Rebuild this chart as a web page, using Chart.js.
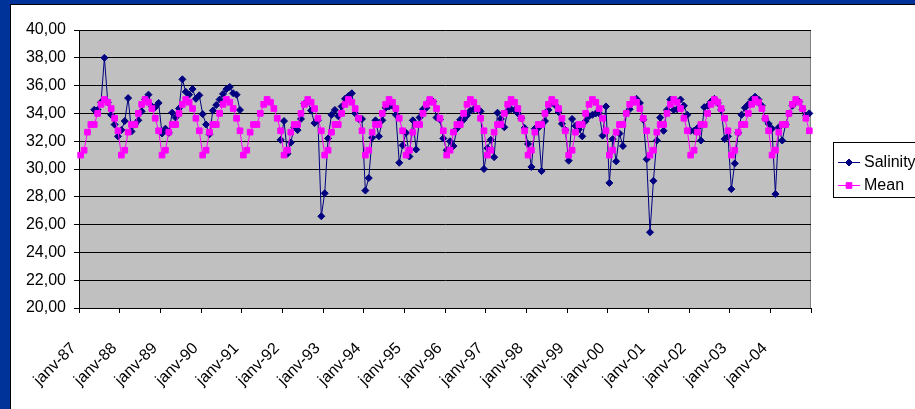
<!DOCTYPE html>
<html>
<head>
<meta charset="utf-8">
<script src="https://cdn.jsdelivr.net/npm/chart.js@4.4.0/dist/chart.umd.min.js"></script>
<style>
  html, body { margin: 0; padding: 0; background: #003399; }
  canvas { display: block; }
</style>
</head>
<body>
<canvas id="salinityChart" width="915" height="409"></canvas>
<script>
// axis categories: one point per month, jan 1987 -> dec 2004
const years = ['87','88','89','90','91','92','93','94','95','96','97','98','99','00','01','02','03','04'];
const months = ['janv','févr','mars','avr','mai','juin','juil','août','sept','oct','nov','déc'];

// measured salinity (null = no measurement)
const salinity = [
  null, null, null, null, 34.26, 34.26, 34.8, 38.0, 34.8, 33.9, 33.2, 32.35,      // 1987
  32.8, 33.45, 35.1, 32.7, 33.2, 33.5, 34.15, 35.0, 35.35, 34.5, 34.45, 34.75,     // 1988
  32.55, 32.9, 32.6, 34.05, 33.7, 34.35, 36.45, 35.55, 35.35, 35.75, 35.05, 35.3,  // 1989
  33.95, 33.2, 32.5, 34.2, 34.6, 35.0, 35.4, 35.75, 35.9, 35.45, 35.35, 34.25,     // 1990
  null, null, null, null, null, null, null, null, null, null, null, 32.1,           // 1991
  33.45, 31.1, 31.9, 33.0, 32.8, 33.6, 34.7, 34.85, 34.2, 33.3, 33.5, 26.6,        // 1992
  28.25, 32.2, 33.9, 34.25, 33.8, 34.5, 35.05, 35.25, 35.45, 34.0, 33.6, 33.6,     // 1993
  28.45, 29.35, 32.25, 33.5, 32.35, 33.5, 34.4, 34.5, 34.55, 33.9, 30.45, 31.7,    // 1994
  32.6, 30.9, 33.5, 31.4, 33.7, 34.3, 34.4, 34.9, 34.85, 33.7, 33.55, 32.2,        // 1995
  31.35, 32.0, 31.65, 32.9, 33.55, 33.55, 33.85, 34.2, 34.3, 34.3, 34.15, 30.0,    // 1996
  31.5, 32.1, 30.85, 34.05, 33.6, 33.0, 34.2, 34.3, 34.25, 34.0, 33.65, 32.95,     // 1997
  31.8, 30.15, 32.9, 32.95, 29.85, 33.45, 34.25, 34.75, 34.6, 34.1, 33.25, 32.8,   // 1998
  30.6, 33.6, 33.1, 32.85, 32.35, 33.45, 33.8, 33.9, 34.0, 34.0, 32.4, 34.5,       // 1999
  29.0, 32.15, 30.55, 32.55, 31.65, 34.0, 34.3, 34.85, 35.05, 34.75, 33.55, 30.7,  // 2000
  25.45, 29.15, 32.05, 33.7, 32.75, 34.25, 35.0, 34.25, 34.3, 35.0, 34.55, 33.9,   // 2001
  32.75, 32.75, 32.95, 32.05, 34.45, 34.55, 34.85, 35.05, 34.75, 34.25, 32.15, 32.35, // 2002
  28.55, 30.4, 32.6, 33.9, 34.4, 34.65, 35.0, 35.2, 35.0, 34.55, 33.6, 33.25,      // 2003
  32.9, 28.2, 33.0, 32.05, 33.2, 34.0, 34.55, 34.85, 34.85, 34.3, 33.85, 34.0      // 2004
];

// monthly mean curve as drawn
const mean = [
  31.0, 31.35, 32.65, 33.2, 33.2, 34.0, 34.65, 35.0, 34.8, 34.35, 33.65, 32.75,  // 1987
  31.0, 31.35, 32.65, 33.2, 33.2, 34.0, 34.65, 35.0, 34.8, 34.35, 33.65, 32.75,  // 1988
  31.0, 31.35, 32.65, 33.2, 33.2, 34.0, 34.65, 35.0, 34.8, 34.35, 33.65, 32.75,  // 1989
  31.0, 31.35, 32.65, 33.2, 33.2, 34.0, 34.65, 35.0, 34.8, 34.35, 33.65, 32.75,  // 1990
  31.0, 31.35, 32.65, 33.2, 33.2, 34.0, 34.65, 35.0, 34.8, 34.35, 33.65, 32.75,  // 1991
  31.0, 31.35, 32.65, 33.2, 33.2, 34.0, 34.65, 35.0, 34.8, 34.35, 33.65, 32.75,  // 1992
  31.0, 31.35, 32.65, 33.2, 33.2, 34.0, 34.65, 35.0, 34.8, 34.35, 33.65, 32.75,  // 1993
  31.0, 31.35, 32.65, 33.2, 33.2, 34.0, 34.65, 35.0, 34.8, 34.35, 33.65, 32.75,  // 1994
  31.0, 31.35, 32.65, 33.2, 33.2, 34.0, 34.65, 35.0, 34.8, 34.35, 33.65, 32.75,  // 1995
  31.0, 31.35, 32.65, 33.2, 33.2, 34.0, 34.65, 35.0, 34.8, 34.35, 33.65, 32.75,  // 1996
  31.0, 31.35, 32.65, 33.2, 33.2, 34.0, 34.65, 35.0, 34.8, 34.35, 33.65, 32.75,  // 1997
  31.0, 31.35, 32.65, 33.2, 33.2, 34.0, 34.65, 35.0, 34.8, 34.35, 33.65, 32.75,  // 1998
  31.0, 31.35, 32.65, 33.2, 33.2, 34.0, 34.65, 35.0, 34.8, 34.35, 33.65, 32.75,  // 1999
  31.0, 31.35, 32.65, 33.2, 33.2, 34.0, 34.65, 35.0, 34.8, 34.35, 33.65, 32.75,  // 2000
  31.0, 31.35, 32.65, 33.2, 33.2, 34.0, 34.65, 35.0, 34.8, 34.35, 33.65, 32.75,  // 2001
  31.0, 31.35, 32.65, 33.2, 33.2, 34.0, 34.65, 35.0, 34.8, 34.35, 33.65, 32.75,  // 2002
  31.0, 31.35, 32.65, 33.2, 33.2, 34.0, 34.65, 35.0, 34.8, 34.35, 33.65, 32.75,  // 2003
  31.0, 31.35, 32.65, 33.2, 33.2, 34.0, 34.65, 35.0, 34.8, 34.35, 33.65, 32.75   // 2004
];

const yMin = 20, yMax = 40, yStep = 2;

const labels = [];
years.forEach(y => months.forEach(m => labels.push(m + '-' + y)));

const FONT = 'Liberation Sans, Arial, sans-serif';

// slide frame, grey plot area and the boxed legend
const frame = {
  id: 'frame',
  beforeDraw(chart) {
    const c = chart.ctx, a = chart.chartArea;
    c.save();
    c.fillStyle = '#003399';
    c.fillRect(0, 0, chart.width, chart.height);
    c.fillStyle = '#000';
    c.fillRect(10, 4, chart.width - 10, chart.height - 4);
    c.fillStyle = '#fff';
    c.fillRect(11, 5, chart.width - 11, chart.height - 5);
    c.fillStyle = '#c0c0c0';
    c.fillRect(a.left, a.top, a.right - a.left, a.bottom - a.top);
    c.strokeStyle = '#808080';
    c.lineWidth = 1;
    c.beginPath();
    c.moveTo(a.left, a.top + 0.5);
    c.lineTo(a.right - 0.5, a.top + 0.5);
    c.lineTo(a.right - 0.5, a.bottom);
    c.stroke();
    c.restore();
  },
  afterDraw(chart) {
    const c = chart.ctx;
    c.save();
    c.fillStyle = '#fff';
    c.fillRect(834, 143, 90, 54);
    c.strokeStyle = '#000';
    c.lineWidth = 1;
    c.strokeRect(833.5, 142.5, 100, 55);
    c.font = '16px ' + FONT;
    c.textBaseline = 'middle';
    const rows = [162, 185];
    chart.data.datasets.forEach((ds, k) => {
      const y = rows[k];
      c.strokeStyle = ds.borderColor;
      c.beginPath();
      c.moveTo(838, y + 0.5);
      c.lineTo(860, y + 0.5);
      c.stroke();
      c.fillStyle = ds.borderColor;
      Chart.helpers.drawPoint(c, {pointStyle: ds.pointStyle, radius: ds.pointRadius, borderWidth: 1}, 849, y + 0.5);
      c.fillStyle = '#000';
      c.fillText(ds.label, 864, y + 1);
    });
    c.restore();
  }
};

new Chart(document.getElementById('salinityChart'), {
  type: 'line',
  data: {
    labels: labels,
    datasets: [{
      label: 'Salinity',
      data: salinity,
      borderColor: '#000080',
      backgroundColor: '#000080',
      borderWidth: 1,
      pointStyle: 'rectRot',
      pointRadius: 3.5,
      pointBorderWidth: 1,
      spanGaps: false,
      tension: 0,
      order: 1
    }, {
      label: 'Mean',
      data: mean,
      borderColor: '#ff00ff',
      backgroundColor: '#ff00ff',
      borderWidth: 1,
      pointStyle: 'rect',
      pointRadius: 4,
      pointBorderWidth: 1,
      tension: 0,
      order: 0
    }]
  },
  options: {
    responsive: false,
    animation: false,
    layout: { padding: { left: 0, top: 30, right: 104, bottom: 0 } },
    plugins: {
      legend: { display: false },
      tooltip: { enabled: false }
    },
    scales: {
      x: {
        offset: true,
        afterFit: s => { s.height = 101; },
        grid: {
          offset: true,
          drawOnChartArea: false,
          drawTicks: true,
          tickLength: 5,
          color: ctx => (ctx.index === undefined || ctx.index % 12 === 0) ? '#000' : 'rgba(0,0,0,0)'
        },
        border: { color: '#000', width: 1 },
        ticks: {
          autoSkip: false,
          minRotation: 45,
          maxRotation: 45,
          padding: 26,
          labelOffset: -7,
          color: '#000',
          font: { family: FONT, size: 16 },
          callback: function(value, index) {
            return index % 12 === 0 ? this.getLabelForValue(value) : '';
          }
        }
      },
      y: {
        min: yMin,
        max: yMax,
        afterFit: s => { s.width = 79; },
        grid: { color: '#000', tickLength: 5, drawTicks: true },
        border: { color: '#000', width: 1 },
        ticks: {
          stepSize: yStep,
          padding: 8,
          color: '#000',
          font: { family: FONT, size: 16 },
          callback: v => v.toFixed(2).replace('.', ',')
        }
      }
    }
  },
  plugins: [frame]
});
</script>
</body>
</html>
